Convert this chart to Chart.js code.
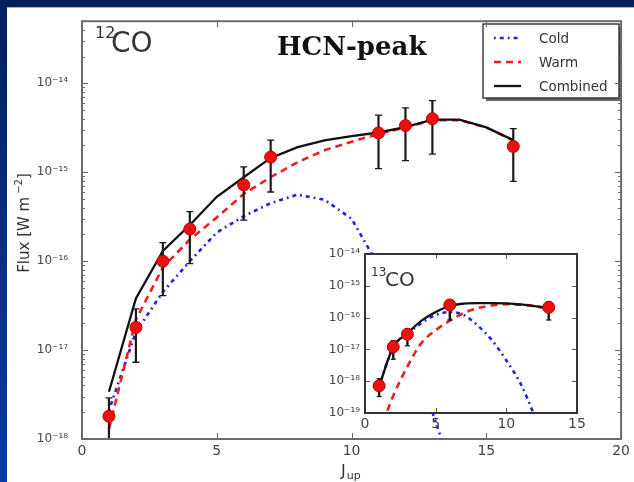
<!DOCTYPE html>
<html>
<head>
<meta charset="utf-8">
<script src="https://cdn.jsdelivr.net/npm/chart.js@4/dist/chart.umd.min.js"></script>
<style>
  html, body { margin: 0; padding: 0; background: #06226a; }
  #wrap { position: relative; width: 634px; height: 482px; overflow: hidden; }
  #main { position: absolute; left: 0; top: 0; }
  #inset { position: absolute; left: 320px; top: 240px; }
</style>
</head>
<body>
<div id="wrap">
  <canvas id="main" width="634" height="482"></canvas>
  <canvas id="inset" width="270" height="200"></canvas>
</div>
<script>
// ---- 12CO ladder (main panel) ----
const jObs12   = [1, 2, 3, 4, 6, 7, 11, 12, 13, 16];
const flux12   = [1.8e-18, 1.8e-17, 1.0e-16, 2.3e-16, 7.2e-16, 1.48e-15, 2.77e-15, 3.35e-15, 4.0e-15, 1.95e-15];
const errLo12  = [4e-19, 7.3e-18, 4.1e-17, 9.4e-17, 2.9e-16, 6.0e-16, 1.1e-15, 1.35e-15, 1.6e-15, 7.9e-16];
const errHi12  = [2.9e-18, 2.9e-17, 1.62e-16, 3.6e-16, 1.15e-15, 2.3e-15, 4.4e-15, 5.3e-15, 6.4e-15, 3.1e-15];

const jModel12    = [1, 2, 3, 4, 5, 6, 7, 8, 9, 10, 11, 12, 13, 14, 15, 16];
const cold12      = [2.1e-18, 1.6e-17, 4.5e-17, 1.0e-16, 2.1e-16, 3.2e-16, 4.5e-16, 5.6e-16, 4.9e-16, 3.0e-16, 8.9e-17, 1.6e-17, 2.0e-18, 2.5e-19, 2e-20, 1e-21];
const warm12      = [1.3e-18, 2.2e-17, 8.5e-17, 1.75e-16, 3.1e-16, 5.7e-16, 8.8e-16, 1.3e-15, 1.77e-15, 2.2e-15, 2.7e-15, 3.2e-15, 3.85e-15, 3.85e-15, 3.2e-15, 2.28e-15];
const combined12  = [3.4e-18, 3.8e-17, 1.3e-16, 2.55e-16, 5.3e-16, 8.8e-16, 1.45e-15, 1.92e-15, 2.28e-15, 2.55e-15, 2.8e-15, 3.22e-15, 3.9e-15, 3.9e-15, 3.2e-15, 2.3e-15];

const xTicks12      = [0, 5, 10, 15, 20];
const yTickExps12   = [-18, -17, -16, -15, -14];
const yTickLabels12 = ['10\u207B\u00B9\u2078', '10\u207B\u00B9\u2077', '10\u207B\u00B9\u2076', '10\u207B\u00B9\u2075', '10\u207B\u00B9\u2074'];

// ---- 13CO ladder (inset) ----
const jObs13  = [1, 2, 3, 6, 13];
const flux13  = [7.2e-19, 1.2e-17, 3.0e-17, 2.5e-16, 2.1e-16];
const errLo13 = [3.3e-19, 4.9e-18, 1.3e-17, 8.4e-17, 8.4e-17];
const errHi13 = [1.2e-18, 1.9e-17, 4.5e-17, 3.5e-16, 3.2e-16];

const jModel13   = [1, 2, 3, 4, 5, 6, 7, 8, 9, 10, 11, 12, 13];
const cold13     = [7e-19, 1.2e-17, 3.1e-17, 6.8e-17, 1.2e-16, 1.5e-16, 1.2e-16, 5.5e-17, 1.9e-17, 4.5e-18, 8.5e-19, 8e-20, 5e-21];
const warm13     = [2.3e-20, 3.5e-19, 2.9e-18, 1.6e-17, 4e-17, 8e-17, 1.4e-16, 2e-16, 2.4e-16, 2.65e-16, 2.55e-16, 2.3e-16, 1.95e-16];
const combined13 = [7e-19, 1.2e-17, 3.2e-17, 8e-17, 1.5e-16, 2.35e-16, 2.75e-16, 2.85e-16, 2.85e-16, 2.8e-16, 2.6e-16, 2.3e-16, 1.95e-16];

const xTicks13      = [0, 5, 10, 15];
const yTickExps13   = [-19, -18, -17, -16, -15, -14];
const yTickLabels13 = ['10\u207B\u00B9\u2079', '10\u207B\u00B9\u2078', '10\u207B\u00B9\u2077', '10\u207B\u00B9\u2076', '10\u207B\u00B9\u2075', '10\u207B\u00B9\u2074'];

const seriesNames = ['Cold', 'Warm', 'Combined'];

Chart.defaults.font.family = "'DejaVu Sans', sans-serif";

const COLD_COLOR = '#1c22e6';
const WARM_COLOR = '#f01e1e';
const COMB_COLOR = '#111111';
const COLD_DASH = [1.8, 4, 4, 4];
const WARM_DASH = [7, 5];

const pts = (xs, ys) => xs.map((x, i) => ({ x: x, y: ys[i] }));
const decade = e => Number('1e' + e);

function buildDatasets(jObs, flux, jModel, cold, warm, comb, smooth) {
  const interp = smooth ? 'monotone' : 'default';
  return [
    { label: 'obs', data: pts(jObs, flux), showLine: false,
      pointRadius: 6, pointBackgroundColor: '#ee1010', pointBorderColor: '#b80000', pointBorderWidth: 1 },
    { label: seriesNames[2], data: pts(jModel, comb), showLine: true, pointRadius: 0,
      borderColor: COMB_COLOR, borderWidth: 2.3, cubicInterpolationMode: interp },
    { label: seriesNames[1], data: pts(jModel, warm), showLine: true, pointRadius: 0,
      borderColor: WARM_COLOR, borderWidth: 2.6, borderDash: WARM_DASH, cubicInterpolationMode: interp },
    { label: seriesNames[0], data: pts(jModel, cold), showLine: true, pointRadius: 0,
      borderColor: COLD_COLOR, borderWidth: 2.6, borderDash: COLD_DASH, cubicInterpolationMode: interp }
  ];
}

// Vertical error bars, drawn just before the marker dataset so markers sit on top.
function errorBarPlugin(xs, lo, hi, lw, cap) {
  return {
    id: 'errbars',
    beforeDatasetDraw(chart, args) {
      if (args.index !== 0) return;
      const { ctx, chartArea: a, scales: { x, y } } = chart;
      ctx.save();
      ctx.beginPath();
      ctx.rect(a.left, a.top - 2, a.right - a.left, a.bottom - a.top + 2);
      ctx.clip();
      ctx.strokeStyle = '#1a1a1a';
      xs.forEach((xv, i) => {
        const px = x.getPixelForValue(xv);
        const p1 = y.getPixelForValue(lo[i]);
        const p2 = y.getPixelForValue(hi[i]);
        ctx.lineWidth = lw;
        ctx.beginPath(); ctx.moveTo(px, p1); ctx.lineTo(px, p2); ctx.stroke();
        ctx.lineWidth = 1.3;
        [p1, p2].forEach(p => { ctx.beginPath(); ctx.moveTo(px - cap, p); ctx.lineTo(px + cap, p); ctx.stroke(); });
      });
      ctx.restore();
    }
  };
}

// Box frame plus inward tick marks on all four sides.
function framePlugin(opts) {
  return {
    id: 'frame',
    afterDraw(chart) {
      const { ctx, chartArea: a, scales: { x, y } } = chart;
      ctx.save();
      ctx.strokeStyle = opts.tickColor;
      ctx.lineWidth = 1;
      opts.xMajor.forEach(v => {
        const px = Math.round(x.getPixelForValue(v)) + 0.5;
        ctx.beginPath();
        ctx.moveTo(px, a.bottom); ctx.lineTo(px, a.bottom - opts.major);
        ctx.moveTo(px, a.top); ctx.lineTo(px, a.top + opts.major);
        ctx.stroke();
      });
      opts.yExps.forEach(e => {
        const py = Math.round(y.getPixelForValue(decade(e))) + 0.5;
        ctx.beginPath();
        ctx.moveTo(a.left, py); ctx.lineTo(a.left + opts.major, py);
        ctx.moveTo(a.right, py); ctx.lineTo(a.right - opts.major, py);
        ctx.stroke();
        if (opts.minor) {
          for (let k = 2; k <= 9; k++) {
            const v = k * decade(e);
            if (v > y.max) break;
            const my = Math.round(y.getPixelForValue(v)) + 0.5;
            ctx.beginPath();
            ctx.moveTo(a.left, my); ctx.lineTo(a.left + opts.minor, my);
            ctx.moveTo(a.right, my); ctx.lineTo(a.right - opts.minor, my);
            ctx.stroke();
          }
        }
      });
      ctx.strokeStyle = opts.frameColor;
      ctx.lineWidth = opts.frameWidth;
      ctx.strokeRect(a.left, a.top, a.right - a.left, a.bottom - a.top);
      ctx.restore();
    }
  };
}

function sampleLine(ctx, ds, x0, x1, yy) {
  ctx.save();
  ctx.strokeStyle = ds.borderColor;
  ctx.lineWidth = ds.borderWidth;
  ctx.setLineDash(ds.borderDash || []);
  ctx.beginPath(); ctx.moveTo(x0, yy); ctx.lineTo(x1, yy); ctx.stroke();
  ctx.restore();
}

// Page background, labels, title and legend of the main panel.
const mainDecor = {
  id: 'mainDecor',
  beforeDraw(chart) {
    const ctx = chart.ctx;
    ctx.save();
    const g = ctx.createLinearGradient(0, 0, 0, 482);
    g.addColorStop(0, '#03205c');
    g.addColorStop(1, '#0a3ca6');
    ctx.fillStyle = g;
    ctx.fillRect(0, 0, 634, 482);
    ctx.fillStyle = '#ffffff';
    ctx.fillRect(7, 7, 627, 475);
    ctx.fillStyle = '#9fb4dc';
    ctx.fillRect(7, 7, 627, 1);
    ctx.restore();
  },
  afterDraw(chart) {
    const ctx = chart.ctx;
    ctx.save();
    // species label
    ctx.fillStyle = '#333';
    ctx.textBaseline = 'alphabetic';
    ctx.font = "16px 'DejaVu Sans'";
    ctx.fillText('12', 95, 38);
    ctx.font = "28px 'DejaVu Sans'";
    ctx.fillText('CO', 111, 52);
    // title
    ctx.fillStyle = '#111';
    ctx.font = "bold 26px 'DejaVu Serif'";
    ctx.fillText('HCN-peak', 277, 55);

    // y axis title with superscript unit
    ctx.save();
    ctx.translate(29, 223);
    ctx.rotate(-Math.PI / 2);
    ctx.fillStyle = '#333';
    const big = "15px 'DejaVu Sans'", small = "10px 'DejaVu Sans'";
    const p1 = 'Flux [W m', p2 = '\u22122', p3 = ']';
    ctx.font = big; const w1 = ctx.measureText(p1).width, w3 = ctx.measureText(p3).width;
    ctx.font = small; const w2 = ctx.measureText(p2).width;
    let sx = -(w1 + 3 + w2 + w3) / 2;
    ctx.font = big; ctx.fillText(p1, sx, 0); sx += w1 + 3;
    ctx.font = small; ctx.fillText(p2, sx, -7); sx += w2;
    ctx.font = big; ctx.fillText(p3, sx, 0);
    ctx.restore();

    // x axis title with subscript
    ctx.fillStyle = '#333';
    ctx.font = "16px 'DejaVu Sans'";
    ctx.fillText('J', 341, 476);
    const wj = ctx.measureText('J').width;
    ctx.font = "11px 'DejaVu Sans'";
    ctx.fillText('up', 341 + wj + 1, 479);

    // legend box with drop shadow
    const bx = 483, by = 24, bw = 136, bh = 74;
    ctx.fillStyle = '#6a6a6a';
    ctx.fillRect(bx + 3, by + 3, bw, bh);
    ctx.fillStyle = '#ffffff';
    ctx.fillRect(bx, by, bw, bh);
    ctx.strokeStyle = '#222';
    ctx.lineWidth = 1.3;
    ctx.strokeRect(bx, by, bw, bh);
    const rows = [38, 62, 86];
    seriesNames.forEach((name, i) => {
      const ds = chart.data.datasets.find(d => d.label === name);
      sampleLine(ctx, ds, 494, 521, rows[i]);
      ctx.fillStyle = '#333';
      ctx.font = "13.5px 'DejaVu Sans'";
      ctx.textBaseline = 'middle';
      ctx.fillText(name, 539, rows[i] + 1);
    });
    ctx.restore();
  }
};

new Chart(document.getElementById('main'), {
  type: 'scatter',
  data: { datasets: buildDatasets(jObs12, flux12, jModel12, cold12, warm12, combined12, false) },
  options: {
    responsive: false, animation: false, devicePixelRatio: 1,
    layout: { padding: { left: 0, right: 11, top: 15, bottom: 0 } },
    plugins: { legend: { display: false }, tooltip: { enabled: false } },
    scales: {
      x: {
        type: 'linear', min: 0, max: 20,
        afterBuildTicks: s => { s.ticks = xTicks12.map(v => ({ value: v })); },
        afterFit: s => { s.height = 43; },
        grid: { display: false, drawTicks: false }, border: { display: false },
        ticks: { color: '#444', font: { size: 14 }, padding: 4, maxRotation: 0, autoSkip: false, callback: v => String(v) }
      },
      y: {
        type: 'logarithmic', min: 1e-18, max: 5e-14,
        afterBuildTicks: s => { s.ticks = yTickExps12.map(e => ({ value: decade(e) })); },
        afterFit: s => { s.width = 82; },
        grid: { display: false, drawTicks: false }, border: { display: false },
        ticks: { color: '#444', font: { size: 12 }, padding: 14, autoSkip: false,
          callback: v => yTickLabels12[yTickExps12.indexOf(Math.round(Math.log10(v)))] }
      }
    }
  },
  plugins: [mainDecor, errorBarPlugin(jObs12, errLo12, errHi12, 2.2, 3.5),
            framePlugin({ xMajor: xTicks12, yExps: yTickExps12, major: 6, minor: 3, tickColor: '#666', frameColor: '#6b6b6b', frameWidth: 2 })]
});

// Inset: white plot area, species label
const insetDecor = {
  id: 'insetDecor',
  beforeDraw(chart) {
    const { ctx, chartArea: a } = chart;
    ctx.save();
    ctx.fillStyle = '#ffffff';
    ctx.fillRect(a.left, a.top, a.right - a.left, a.bottom - a.top);
    ctx.restore();
  },
  afterDraw(chart) {
    const ctx = chart.ctx;
    ctx.save();
    ctx.fillStyle = '#333';
    ctx.font = "12px 'DejaVu Sans'";
    ctx.fillText('13', 51, 36);
    ctx.font = "20px 'DejaVu Sans'";
    ctx.fillText('CO', 65, 46);
    ctx.restore();
  }
};

new Chart(document.getElementById('inset'), {
  type: 'scatter',
  data: { datasets: buildDatasets(jObs13, flux13, jModel13, cold13, warm13, combined13, true) },
  options: {
    responsive: false, animation: false, devicePixelRatio: 1,
    layout: { padding: { left: 0, right: 13, top: 14, bottom: 0 } },
    plugins: { legend: { display: false }, tooltip: { enabled: false } },
    scales: {
      x: {
        type: 'linear', min: 0, max: 15,
        afterBuildTicks: s => { s.ticks = xTicks13.map(v => ({ value: v })); },
        afterFit: s => { s.height = 27; },
        grid: { display: false, drawTicks: false }, border: { display: false },
        ticks: { color: '#444', font: { size: 14 }, padding: 3, maxRotation: 0, autoSkip: false, callback: v => String(v) }
      },
      y: {
        type: 'logarithmic', min: 1e-19, max: 1e-14,
        afterBuildTicks: s => { s.ticks = yTickExps13.map(e => ({ value: decade(e) })); },
        afterFit: s => { s.width = 45; },
        grid: { display: false, drawTicks: false }, border: { display: false },
        ticks: { color: '#444', font: { size: 12 }, padding: 5, autoSkip: false,
          callback: v => yTickLabels13[yTickExps13.indexOf(Math.round(Math.log10(v)))] }
      }
    }
  },
  plugins: [insetDecor, errorBarPlugin(jObs13, errLo13, errHi13, 2.4, 2.5),
            framePlugin({ xMajor: xTicks13, yExps: yTickExps13, major: 5, minor: 0, tickColor: '#555', frameColor: '#333', frameWidth: 2 })]
});
</script>
</body>
</html>
